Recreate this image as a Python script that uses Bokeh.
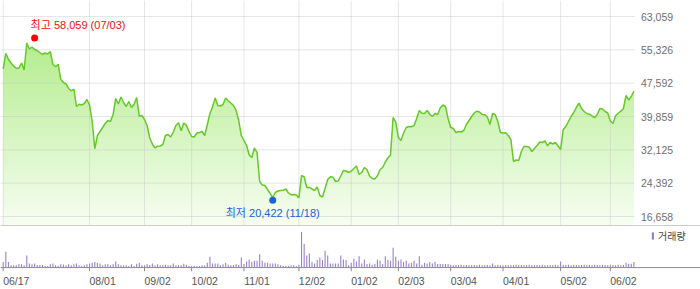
import numpy as np
from bokeh.plotting import figure
from bokeh.layouts import column
from bokeh.models import Range1d, FixedTicker, Span, Legend, LegendItem
from bokeh.core.properties import value
from bokeh.embed import file_html
from bokeh.resources import INLINE

# ---------------- data ----------------
tick_labels = ["06/17", "08/01", "09/02", "10/02", "11/01", "12/02",
               "01/02", "02/03", "03/04", "04/01", "05/02", "06/02"]
tick_index = [0, 33, 54, 72, 92, 113, 133, 151, 171, 191, 213, 232]

y_ticks = [16658, 24392, 32125, 39859, 47592, 55326, 63059]

close = [
    50930, 54480, 53150, 52270, 51580, 51060, 51110, 52270, 50650, 56910,
    55520, 55980, 55400, 55170, 54710, 54240, 54590, 54360, 54940, 51920,
    51390, 51990, 48440, 47750, 47400, 46360, 45820, 46240, 42180, 42710,
    42530, 42880, 43800, 42530, 38700, 32370, 35450, 36380, 37310, 38240,
    38930, 38700, 40320, 44040, 42760, 44380, 43110, 42180, 43340, 41950,
    42640, 44270, 39930, 40090, 39160, 37770, 34870, 33480, 32550, 32970,
    33020, 33360, 35450, 35680, 35100, 36260, 37770, 38400, 36540, 38350,
    37800, 36380, 35220, 35100, 36030, 36150, 36380, 35450, 38000, 40560,
    42060, 44150, 42410, 42300, 42640, 44150, 43460, 42990, 42410, 41250,
    38930, 35450, 34290, 33130, 30930, 30350, 32550, 31510, 24780, 23970,
    23850, 22920, 22000, 21070, 22230, 22580, 22690, 22740, 23040, 22110,
    21690, 21760, 21650, 21000, 26170, 25820, 23390, 23440, 23040, 22690,
    23500, 21530, 21180, 23160, 25240, 25890, 25780, 24780, 24900, 26060,
    27330, 27220, 26870, 27170, 27800, 28380, 26400, 26870, 28030, 27560,
    26060, 25480, 25360, 26100, 27560, 28030, 29300, 30230, 30930, 39630,
    38580, 34990, 34290, 36030, 37310, 37540, 37470, 37770, 39400, 41250,
    40620, 40580, 41250, 40390, 39860, 40560, 40320, 41830, 42530, 42180,
    39400, 37310, 37080, 36150, 36380, 36260, 36610, 38000, 38930, 39860,
    40670, 41090, 40900, 40320, 40280, 39740, 38000, 40560, 40320, 38700,
    36150, 36030, 36100, 35450, 34520, 29420, 29770, 29650, 31740, 32900,
    32880, 32740, 31740, 32440, 33130, 33940, 33830, 34180, 33060, 33830,
    33480, 33830, 33020, 32200, 36840, 37540, 38700, 39860, 40790, 41950,
    42990, 41720, 41020, 40560, 40390, 39980, 39630, 40320, 41720, 41600,
    41020, 40670, 38820, 38240, 40020, 40620, 41090, 41720, 44730, 43690,
    44500, 45730,
]

volume_k = [
    285, 815, 285, 115, 115, 120, 165, 165, 115, 615,
    215, 165, 215, 135, 135, 130, 85, 85, 165, 215,
    115, 85, 165, 160, 115, 165, 115, 165, 215, 115,
    85, 115, 165, 215, 250, 285, 250, 215, 115, 165,
    165, 115, 165, 315, 165, 115, 115, 115, 85, 165,
    85, 200, 250, 115, 115, 165, 135, 215, 115, 165,
    115, 115, 150, 115, 115, 215, 115, 115, 115, 200,
    150, 85, 85, 85, 85, 85, 115, 115, 250, 550,
    215, 215, 215, 115, 165, 250, 150, 115, 135, 165,
    150, 515, 185, 315, 415, 285, 350, 350, 685, 350,
    250, 250, 215, 215, 215, 165, 115, 85, 85, 85,
    115, 115, 85, 150, 1815, 1215, 615, 715, 285, 215,
    385, 515, 385, 865, 615, 215, 215, 215, 215, 615,
    415, 385, 115, 250, 450, 315, 585, 215, 415, 185,
    215, 150, 185, 415, 350, 185, 585, 385, 350, 1015,
    550, 350, 415, 285, 350, 215, 250, 350, 215, 585,
    150, 250, 215, 285, 215, 285, 185, 185, 185, 185,
    185, 150, 115, 135, 115, 150, 115, 135, 115, 115,
    135, 115, 150, 115, 115, 135, 115, 215, 115, 150,
    115, 115, 135, 115, 115, 115, 150, 115, 135, 115,
    115, 150, 115, 115, 135, 115, 150, 115, 115, 135,
    115, 150, 115, 315, 150, 135, 150, 115, 150, 135,
    115, 135, 150, 115, 135, 115, 150, 135, 115, 150,
    135, 115, 150, 135, 115, 150, 115, 135, 250, 200,
    200, 285,
]

hi_index, hi_value, hi_text = 12, 58059, "최고 58,059 (07/03)"
lo_index, lo_value, lo_text = 103, 20422, "최저 20,422 (11/18)"

# ---------------- layout / scales ----------------
px_per_day = 2.617
x_start = -1.03
plot_end = x_start + 634 / px_per_day      # right edge of the price area
x_end = x_start + 700 / px_per_day         # right edge of the page
label_x = x_start + 640.5 / px_per_day     # left edge of the price labels
date_shift = 5                             # date label centre, right of its tick
y_lo, y_hi = 14571, 66771

idx = np.arange(len(close))
close_arr = np.array(close, dtype=float)
xr = Range1d(x_start, x_end)

FONT = "Liberation Sans, Noto Sans CJK KR, sans-serif"

p = figure(width=700, height=225, x_range=xr, y_range=Range1d(y_lo, y_hi),
           x_axis_location=None, y_axis_location=None, output_backend="svg",
           toolbar_location=None, min_border_left=0, min_border_right=0,
           min_border_top=0, min_border_bottom=0)
p.outline_line_color = None
p.xgrid.grid_line_color = None
p.ygrid.grid_line_color = None

# gradient area: stacked bands, top colour first, lower bands overlay
top_rgb = np.array([176, 236, 136])
bot_rgb = np.array([248, 254, 244])
n_bands = 50
edges = np.linspace(y_lo, 60000, n_bands + 1)
for k in range(n_bands, 0, -1):
    hi = edges[k] if k < n_bands else y_hi
    t = (edges[k] - y_lo) / (edges[-1] - y_lo)
    rgb = (bot_rgb + (top_rgb - bot_rgb) * t).astype(int)
    col = "#%02x%02x%02x" % tuple(rgb)
    p.varea(x=idx, y1=np.full(len(idx), y_lo), y2=np.minimum(close_arr, hi),
            fill_color=col)

# grid lines drawn over the fill, under the price line
for yt in y_ticks:
    p.segment(x0=[x_start], x1=[plot_end], y0=[yt], y1=[yt],
              line_color="#c8c8c8", line_alpha=0.45, line_width=1)
for xt in tick_index:
    p.segment(x0=[xt], x1=[xt], y0=[y_lo], y1=[y_hi],
              line_color="#c8c8c8", line_alpha=0.45, line_width=1)

p.line(idx, close_arr, line_color="#66c92a", line_width=1.5)

# right-hand price labels
p.text(x=[label_x] * len(y_ticks), y=y_ticks,
       text=["{:,}".format(t) for t in y_ticks],
       text_font=value("Liberation Sans"), text_font_size="10.5px",
       text_color="#6e6e6e", text_align="left", text_baseline="middle")

p.scatter([hi_index], [hi_value], size=7, fill_color="#ff0000", line_color=None)
p.scatter([lo_index], [lo_value], size=7, fill_color="#1a62d6", line_color=None)
p.text([hi_index], [hi_value], text=[hi_text], text_font=value(FONT),
       text_font_size="11px", text_color="#ee1111", text_align="left",
       text_baseline="middle", x_offset=-4, y_offset=-13)
p.text([lo_index], [lo_value], text=[lo_text], text_font=value(FONT),
       text_font_size="11px", text_color="#1a62d6", text_align="center",
       text_baseline="middle", y_offset=13)

# ---------------- volume panel ----------------
vol_per_px = 50
vol_top = 43 * vol_per_px          # panel top (divider line)
vol_bottom = -4 * vol_per_px       # room for the tick marks under the baseline
v = figure(width=700, height=64, x_range=xr,
           y_range=Range1d(vol_bottom, vol_top), y_axis_location=None,
           output_backend="svg", toolbar_location=None,
           min_border_left=0, min_border_right=0, min_border_top=0,
           min_border_bottom=17)
v.outline_line_color = None
v.xgrid.grid_line_color = None
v.ygrid.grid_line_color = None

vr = v.vbar(x=idx, top=volume_k, bottom=0, width=0.42, fill_color="#9880cf",
            line_color=None)

# baseline and its tick marks
v.add_layout(Span(location=0, dimension="width", line_color="#8a8a8a",
                  line_width=1))
v.segment(x0=tick_index, x1=tick_index, y0=[0] * len(tick_index),
          y1=[vol_bottom] * len(tick_index), line_color="#8a8a8a",
          line_width=1)

# date labels: axis with ticks shifted so the labels start at their tick
xa = v.xaxis[0]
xa.ticker = FixedTicker(ticks=[t + date_shift for t in tick_index])
xa.major_label_overrides = {t + date_shift: s
                            for t, s in zip(tick_index, tick_labels)}
xa.axis_line_color = None
xa.major_tick_line_color = None
xa.minor_tick_line_color = None
xa.major_tick_out = 0
xa.major_tick_in = 0
xa.major_label_standoff = 3
xa.major_label_text_font = "Liberation Sans"
xa.major_label_text_font_size = "10.5px"
xa.major_label_text_color = "#555555"

v.add_layout(Span(location=vol_top, dimension="width", line_color="#9a9a9a",
                  line_width=1))

leg = Legend(items=[LegendItem(label="거래량", renderers=[vr])],
             location=(651, 28), orientation="horizontal", glyph_width=3,
             glyph_height=9, label_standoff=4, padding=0, margin=0,
             border_line_color=None, background_fill_alpha=0,
             label_text_font="Noto Sans CJK KR", label_text_font_size="10px",
             label_text_color="#444444", label_height=10)
v.add_layout(leg)

layout = column(p, v, spacing=0)
open("out.html", "w").write(file_html(layout, INLINE))
